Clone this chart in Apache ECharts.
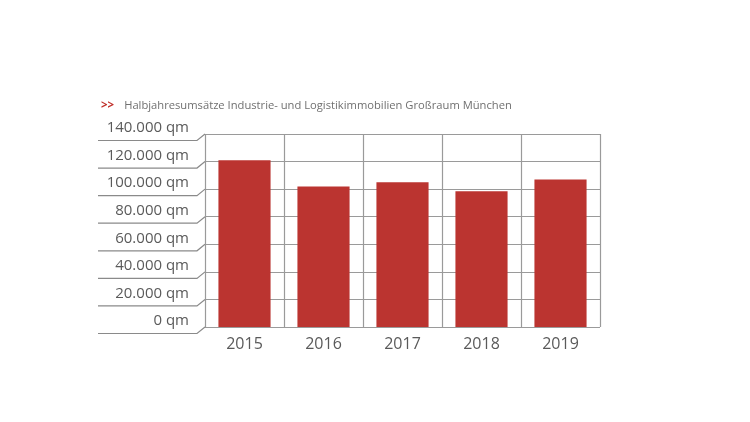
<!DOCTYPE html>
<html>
<head>
<meta charset="utf-8">
<script src="https://cdn.jsdelivr.net/npm/echarts@6/dist/echarts.min.js"></script>
<style>
html,body{margin:0;padding:0;background:#fff;}
#c{width:750px;height:422px;}
</style>
</head>
<body>
<div id="c"></div>
<script>
var titleText = 'Halbjahresumsätze Industrie- und Logistikimmobilien Großraum München';
var years = ['2015', '2016', '2017', '2018', '2019'];
var values = [121000, 102000, 105000, 98500, 107000];
var yTicks = [0, 20000, 40000, 60000, 80000, 100000, 120000, 140000];

function fmt(v) {
  return String(v).replace(/\B(?=(\d{3})+(?!\d))/g, '.') + ' qm';
}

var FONT = '"Open Sans", "Noto Sans", sans-serif';
var chart = echarts.init(document.getElementById('c'));
chart.setOption({
  backgroundColor: '#fff',
  animation: false,
  title: {
    text: '{a|>>}  {b|' + titleText + '}',
    left: 96,
    top: 92,
    textStyle: {
      fontWeight: 'normal',
      rich: {
        a: { color: '#c0302b', fontSize: 11.5, fontWeight: 'bold', fontFamily: FONT },
        b: { color: '#707070', fontSize: 11.2, fontWeight: 'normal', fontFamily: FONT }
      }
    }
  },
  grid: { left: 205, right: 150, top: 134, bottom: 95 },
  xAxis: {
    type: 'category',
    data: years,
    boundaryGap: true,
    axisLine: { show: false },
    axisTick: { show: false },
    splitLine: { show: true, lineStyle: { color: '#9a9a9a', width: 1.2 } },
    axisLabel: { color: '#5a5a5a', fontSize: 16, fontFamily: FONT, margin: 9 }
  },
  yAxis: {
    type: 'value',
    min: 0,
    max: 140000,
    interval: 20000,
    axisLine: { show: false },
    axisTick: { show: false },
    splitLine: { show: true, lineStyle: { color: '#9a9a9a', width: 1.2 } },
    axisLabel: {
      color: '#5a5a5a', fontSize: 15, fontFamily: FONT, margin: 16,
      verticalAlign: 'bottom', lineHeight: 12,
      formatter: fmt
    }
  },
  series: [
    {
      type: 'bar',
      data: values,
      barCategoryGap: '34%',
      itemStyle: { color: '#bb3430' },
      z: 3
    },
    {
      type: 'custom',
      data: yTicks.map(function (t) { return [0, t]; }),
      clip: false,
      silent: true,
      z: 1,
      renderItem: function (params, api) {
        var y = api.coord([0, api.value(1)])[1];
        var x = params.coordSys.x;
        return {
          type: 'polyline',
          shape: { points: [[x - 107, y + 6.5], [x - 8, y + 6.5], [x, y]] },
          style: { stroke: '#8a8a8a', lineWidth: 1.2, fill: null }
        };
      }
    }
  ]
});
</script>
</body>
</html>
